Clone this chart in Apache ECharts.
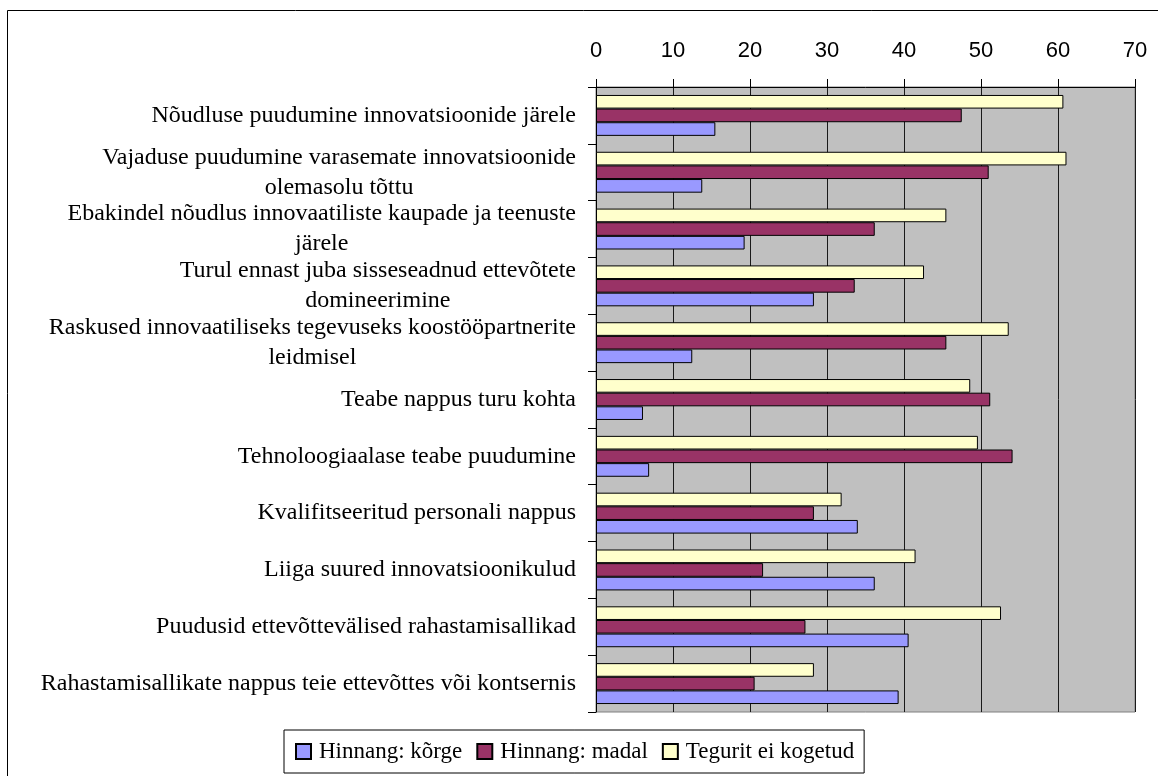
<!DOCTYPE html>
<html>
<head>
<meta charset="utf-8">
<script src="https://cdn.jsdelivr.net/npm/echarts@6/dist/echarts.min.js"></script>
<style>
    html, body { margin: 0; padding: 0; background: #fff; }
    #chart { width: 1158px; height: 776px; }
</style>
</head>
<body>
<div id="chart"></div>
<script>
    // kategooriad ülevalt alla
    var categories = [
        'Nõudluse puudumine innovatsioonide järele',
        'Vajaduse puudumine varasemate innovatsioonide\nolemasolu tõttu',
        'Ebakindel nõudlus innovaatiliste kaupade ja teenuste\njärele',
        'Turul ennast juba sisseseadnud ettevõtete\ndomineerimine',
        'Raskused innovaatiliseks tegevuseks koostööpartnerite\nleidmisel',
        'Teabe nappus turu kohta',
        'Tehnoloogiaalase teabe puudumine',
        'Kvalifitseeritud personali nappus',
        'Liiga suured innovatsioonikulud',
        'Puudusid ettevõttevälised rahastamisallikad',
        'Rahastamisallikate nappus teie ettevõttes või kontsernis'
    ];
    var seriesNames = ['Hinnang: kõrge', 'Hinnang: madal', 'Tegurit ei kogetud'];
    var korge = [15.5, 13.8, 19.3, 28.3, 12.5, 6.1, 6.9, 34.0, 36.2, 40.6, 39.3];
    var madal = [47.5, 51.0, 36.2, 33.6, 45.5, 51.2, 54.1, 28.3, 21.7, 27.2, 20.6];
    var eiKogetud = [60.7, 61.1, 45.5, 42.6, 53.6, 48.6, 49.6, 31.9, 41.5, 52.6, 28.3];
    var xTicks = [0, 10, 20, 30, 40, 50, 60, 70];

    var serif = '"Liberation Serif", "Times New Roman", serif';
    var sans = '"Liberation Sans", Arial, sans-serif';

    var chart = echarts.init(document.getElementById('chart'));

    function bar(name, data, color) {
        return {
            name: name,
            type: 'bar',
            data: data,
            barGap: '0%',
            barCategoryGap: '28%',
            itemStyle: { color: color, borderColor: '#000', borderWidth: 1 }
        };
    }

    var option = {
        animation: false,
        backgroundColor: '#fff',
        graphic: [{
            type: 'rect',
            shape: { x: 7.5, y: 10.5, width: 1200, height: 800 },
            style: { fill: 'none', stroke: '#000', lineWidth: 1 },
            silent: true
        }],
        legend: {
            data: seriesNames,
            left: 284,
            top: 730,
            padding: [10, 10, 10, 11],
            itemGap: 14,
            itemWidth: 15,
            itemHeight: 15,
            icon: 'rect',
            borderColor: '#000',
            borderWidth: 1,
            textStyle: { fontFamily: serif, fontSize: 23, color: '#000', padding: [0, 0, 0, 3] }
        },
        grid: {
            left: 596,
            right: 23,
            top: 87,
            bottom: 64,
            show: true,
            backgroundColor: '#c0c0c0',
            borderColor: '#808080',
            borderWidth: 1
        },
        xAxis: {
            type: 'value',
            position: 'top',
            min: xTicks[0],
            max: xTicks[xTicks.length - 1],
            interval: 10,
            axisLine: { show: true, lineStyle: { color: '#000' } },
            axisTick: { show: true, length: 8, lineStyle: { color: '#000' } },
            axisLabel: { margin: 25, fontFamily: sans, fontSize: 22, color: '#000' },
            splitLine: { show: true, lineStyle: { color: '#1a1a1a' } }
        },
        yAxis: {
            type: 'category',
            inverse: true,
            data: categories,
            axisLine: { show: true, lineStyle: { color: '#000' } },
            axisTick: { show: true, length: 8, lineStyle: { color: '#000' } },
            axisLabel: {
                margin: 20,
                fontFamily: serif,
                fontSize: 24,
                color: '#000',
                lineHeight: 30,
                formatter: function (value) {
                    return value.split('\n').map(function (s) { return '{c|' + s + '}'; }).join('\n');
                },
                rich: {
                    c: { align: 'center', fontFamily: serif, fontSize: 24, color: '#000', lineHeight: 30 }
                }
            },
            splitLine: { show: false }
        },
        // kollane ülemine, sinine alumine
        series: [
            bar(seriesNames[2], eiKogetud, '#ffffcc'),
            bar(seriesNames[1], madal, '#993366'),
            bar(seriesNames[0], korge, '#9999ff')
        ]
    };

    chart.setOption(option);
</script>
</body>
</html>
